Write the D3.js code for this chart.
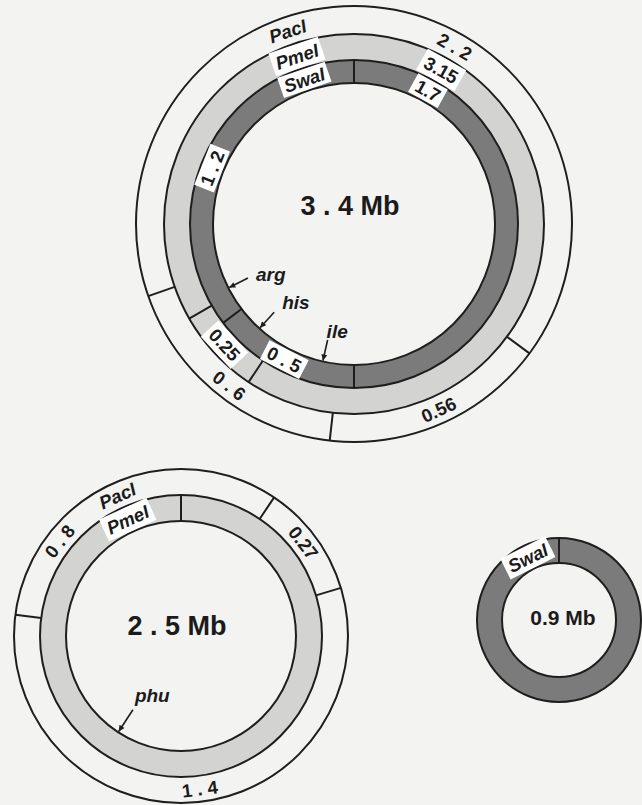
<!DOCTYPE html>
<html>
<head>
<meta charset="utf-8">
<script src="https://cdn.jsdelivr.net/npm/d3@7"></script>
<style>
  html, body { margin: 0; padding: 0; background: #f3f3f1; }
  svg { display: block; }
  text { font-family: "Liberation Sans", Arial, Helvetica, sans-serif; fill: #1b1b1b; }
</style>
</head>
<body>
<svg id="chart" width="642" height="805"></svg>
<script>
// Genome sizes shown in the centre of each physical map
const genomeNames = ["3 . 4 Mb", "2 . 5 Mb", "0.9 Mb"];

// Restriction fragments (Mb), clockwise from the first cut of each digest
const pacIFragA = [0.56, 0.6, 2.2];
const pmeIFragA = [0.25, 3.15];
const swaIFragA = [1.7, 0.5, 1.2];
const pacIFragB = [0.27, 1.4, 0.8];
const pmeIFragB = [2.5];
const swaIFragC = [0.9];

// Fragment sizes as printed on the maps
const pacILabelsA = ["0.56", "0 . 6", "2 . 2"];
const pmeILabelsA = ["0.25", "3.15"];
const swaILabelsA = ["1.7", "0 . 5", "1 . 2"];
const pacILabelsB = ["0.27", "1 . 4", "0 . 8"];

// Marker loci, in Mb from the first cut of the ring they sit on
const genesA = ["arg", "his", "ile"];
const genePosA = [2.295, 2.098, 1.821];
const genesB = ["phu"];
const genePosB = [1.48];

// ---- drawing ----
const LIGHT = "#d3d3d1";
const DARK = "#7b7b7b";
const INK = "#1e1e1e";
const LABEL_SIZE = 18.5;

const maps = [
  {
    cx: 354, cy: 224, name: genomeNames[0], nameSize: 27, nameOff: [-4, -19],
    rings: [
      { enzyme: "PacI", frags: pacIFragA, labels: pacILabelsA, r0: 190, r1: 218, fill: "none",
        start: 126.4, labelAt: [155.5, 217.7, 29.6], boxed: false, enzymeAt: -19 },
      { enzyme: "PmeI", frags: pmeIFragA, labels: pmeILabelsA, r0: 164, r1: 190, fill: LIGHT,
        start: 213.7, labelAt: [227, 29.5], boxed: true, enzymeAt: -18.8 },
      { enzyme: "SwaI", frags: swaIFragA, labels: swaILabelsA, r0: 141, r1: 164, fill: DARK,
        start: 0, labelAt: [29, 207.2, 291.5], boxed: true, enzymeAt: -19 }
    ],
    genes: genesA, genePos: genePosA, geneRing: 2, arrowLen: 22,
    geneText: [[8, 3], [8, -3], [-1, -2]]
  },
  {
    cx: 181, cy: 636, name: genomeNames[1], nameSize: 27, nameOff: [-4, -11],
    rings: [
      { enzyme: "PacI", frags: pacIFragB, labels: pacILabelsB, r0: 141, r1: 167, fill: "none",
        start: 33.9, labelAt: [52.7, 173, 308], boxed: false, enzymeAt: -24.4 },
      { enzyme: "PmeI", frags: pmeIFragB, labels: [], r0: 115, r1: 141, fill: LIGHT,
        start: 0, labelAt: [], boxed: true, enzymeAt: -24.6 }
    ],
    genes: genesB, genePos: genePosB, geneRing: 1, arrowLen: 27,
    geneText: [[2, -8]]
  },
  {
    cx: 559, cy: 620, name: genomeNames[2], nameSize: 21, nameOff: [4, -3],
    rings: [
      { enzyme: "SwaI", frags: swaIFragC, labels: [], r0: 57, r1: 82, fill: DARK,
        start: 0, labelAt: [], boxed: true, enzymeAt: -26.6 }
    ],
    genes: [], genePos: [], geneRing: 0, arrowLen: 0, geneText: []
  }
];

const svg = d3.select("#chart");
const rad = d => d * Math.PI / 180;

svg.append("defs").append("marker")
  .attr("id", "tip").attr("viewBox", "0 0 10 10")
  .attr("refX", 10).attr("refY", 5)
  .attr("markerWidth", 8).attr("markerHeight", 6)
  .attr("markerUnits", "userSpaceOnUse")
  .attr("orient", "auto")
  .append("path").attr("d", "M0,0L10,5L0,10Z").attr("fill", INK);

// place a label tangentially on a ring, flipped on the lower half so it reads left to right
function along(cx, cy, r, deg) {
  const a = rad(deg);
  const x = cx + r * Math.sin(a), y = cy - r * Math.cos(a);
  const n = ((deg % 360) + 360) % 360;
  const rot = (n > 90 && n < 270) ? n - 180 : n;
  return `translate(${x.toFixed(2)},${y.toFixed(2)}) rotate(${rot.toFixed(2)})`;
}

function ringLabel(g, m, ring, deg, txt, boxed, opts) {
  const rm = (ring.r0 + ring.r1) / 2;
  const lg = g.append("g").attr("transform", along(m.cx, m.cy, rm, deg));
  const t = lg.append("text")
    .attr("text-anchor", "middle")
    .attr("dy", "0.36em")
    .style("font-size", opts.size + "px")
    .style("font-weight", "bold")
    .style("font-style", opts.italic ? "italic" : "normal")
    .text(txt);
  if (boxed) {
    const w = t.node().getComputedTextLength();
    const h = ring.r1 - ring.r0 - 2;
    lg.insert("rect", "text")
      .attr("x", -w / 2 - 4).attr("y", -h / 2)
      .attr("width", w + 8).attr("height", h)
      .attr("fill", "#ffffff");
  }
}

maps.forEach(m => {
  const g = svg.append("g");

  m.rings.forEach(ring => {
    const total = d3.sum(ring.frags);
    const angle = d3.scaleLinear().domain([0, total])
      .range([rad(ring.start), rad(ring.start) + 2 * Math.PI]);
    const ends = d3.cumsum(ring.frags);
    const segs = ring.frags.map((v, i) => ({ a0: angle(ends[i] - v), a1: angle(ends[i]) }));
    ring.angle = angle;

    const arc = d3.arc().innerRadius(ring.r0).outerRadius(ring.r1);
    if (ring.fill !== "none") {
      g.selectAll(null).data(segs).join("path")
        .attr("transform", `translate(${m.cx},${m.cy})`)
        .attr("d", d => arc({ startAngle: d.a0, endAngle: d.a1 }))
        .attr("fill", ring.fill);
    }

    // cut sites
    g.selectAll(null).data(segs).join("line")
      .attr("x1", d => m.cx + ring.r0 * Math.sin(d.a0))
      .attr("y1", d => m.cy - ring.r0 * Math.cos(d.a0))
      .attr("x2", d => m.cx + ring.r1 * Math.sin(d.a0))
      .attr("y2", d => m.cy - ring.r1 * Math.cos(d.a0))
      .attr("stroke", INK).attr("stroke-width", 2);
  });

  // ring outlines
  const radii = Array.from(new Set(m.rings.flatMap(r => [r.r0, r.r1])));
  g.selectAll(null).data(radii).join("circle")
    .attr("cx", m.cx).attr("cy", m.cy).attr("r", d => d)
    .attr("fill", "none").attr("stroke", INK).attr("stroke-width", 2);

  // fragment sizes and enzyme names
  m.rings.forEach(ring => {
    ring.labels.forEach((txt, i) =>
      ringLabel(g, m, ring, ring.labelAt[i], txt, ring.boxed, { size: LABEL_SIZE, italic: false }));
    ringLabel(g, m, ring, ring.enzymeAt, ring.enzyme, ring.boxed, { size: LABEL_SIZE, italic: true });
  });

  // genome size
  g.append("text")
    .attr("x", m.cx + m.nameOff[0]).attr("y", m.cy + m.nameOff[1])
    .attr("text-anchor", "middle").attr("dy", "0.36em")
    .style("font-size", m.nameSize + "px").style("font-weight", "bold")
    .text(m.name);

  // marker loci with arrows onto the inner edge
  if (m.genes.length) {
    const ring = m.rings[m.geneRing];
    const tipR = ring.r0;
    m.genes.forEach((name, i) => {
      const a = ring.angle(m.genePos[i]);
      const tail = [m.cx + (tipR - m.arrowLen) * Math.sin(a), m.cy - (tipR - m.arrowLen) * Math.cos(a)];
      const tip = [m.cx + (tipR - 1) * Math.sin(a), m.cy - (tipR - 1) * Math.cos(a)];
      g.append("line")
        .attr("x1", tail[0]).attr("y1", tail[1])
        .attr("x2", tip[0]).attr("y2", tip[1])
        .attr("stroke", INK).attr("stroke-width", 1.6)
        .attr("marker-end", "url(#tip)");
      g.append("text")
        .attr("x", tail[0] + m.geneText[i][0]).attr("y", tail[1] + m.geneText[i][1])
        .style("font-size", "19px").style("font-style", "italic").style("font-weight", "bold")
        .text(name);
    });
  }
});
</script>
</body>
</html>
